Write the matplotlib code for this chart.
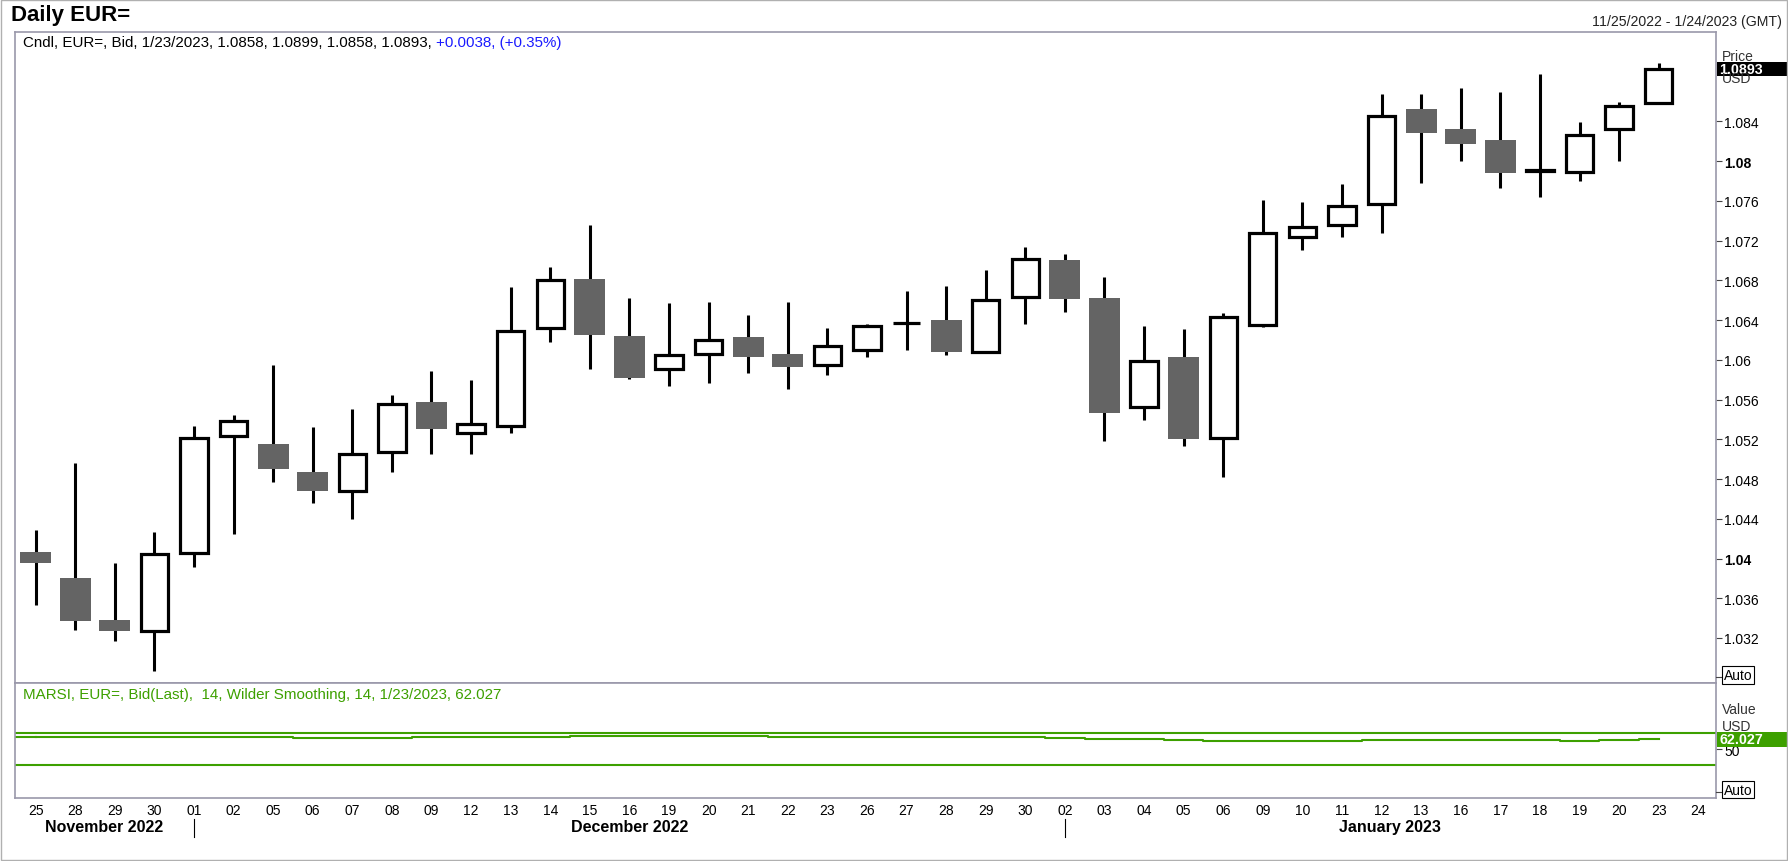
import numpy as np
import pandas as pd
import matplotlib
matplotlib.use("Agg")
import matplotlib.pyplot as plt
from matplotlib.patches import Rectangle
from matplotlib.lines import Line2D
from matplotlib.transforms import blended_transform_factory

plt.rcParams['font.family'] = ['Liberation Sans', 'DejaVu Sans']

# --- daily EUR= bid candles ---
dates = pd.to_datetime([
    '2022-11-25', '2022-11-28', '2022-11-29', '2022-11-30',
    '2022-12-01', '2022-12-02', '2022-12-05', '2022-12-06', '2022-12-07',
    '2022-12-08', '2022-12-09', '2022-12-12', '2022-12-13', '2022-12-14',
    '2022-12-15', '2022-12-16', '2022-12-19', '2022-12-20', '2022-12-21',
    '2022-12-22', '2022-12-23', '2022-12-26', '2022-12-27', '2022-12-28',
    '2022-12-29', '2022-12-30', '2023-01-02', '2023-01-03', '2023-01-04',
    '2023-01-05', '2023-01-06', '2023-01-09', '2023-01-10', '2023-01-11',
    '2023-01-12', '2023-01-13', '2023-01-16', '2023-01-17', '2023-01-18',
    '2023-01-19', '2023-01-20', '2023-01-23',
])
axis_end = pd.Timestamp('2023-01-24')

opens = [1.0407, 1.0380, 1.0338, 1.0327, 1.0406, 1.0523, 1.0515, 1.0487, 1.0468,
         1.0507, 1.0558, 1.0526, 1.0533, 1.0632, 1.0681, 1.0624, 1.0591, 1.0606,
         1.0623, 1.0606, 1.0595, 1.0610, 1.0637, 1.0640, 1.0608, 1.0663, 1.0700,
         1.0662, 1.0552, 1.0603, 1.0521, 1.0635, 1.0724, 1.0736, 1.0757, 1.0852,
         1.0832, 1.0821, 1.0790, 1.0789, 1.0832, 1.0858]
highs = [1.0429, 1.0496, 1.0395, 1.0427, 1.0533, 1.0544, 1.0595, 1.0532, 1.0550,
         1.0565, 1.0589, 1.0580, 1.0673, 1.0693, 1.0736, 1.0662, 1.0657, 1.0658,
         1.0645, 1.0658, 1.0632, 1.0636, 1.0669, 1.0674, 1.0690, 1.0714, 1.0706,
         1.0683, 1.0634, 1.0631, 1.0647, 1.0761, 1.0759, 1.0777, 1.0867, 1.0868,
         1.0874, 1.0870, 1.0888, 1.0839, 1.0859, 1.0899]
lows = [1.0353, 1.0328, 1.0317, 1.0287, 1.0391, 1.0425, 1.0477, 1.0456, 1.0440,
        1.0487, 1.0505, 1.0505, 1.0526, 1.0618, 1.0591, 1.0581, 1.0574, 1.0577,
        1.0587, 1.0571, 1.0585, 1.0603, 1.0610, 1.0605, 1.0607, 1.0636, 1.0648,
        1.0518, 1.0539, 1.0513, 1.0482, 1.0633, 1.0710, 1.0724, 1.0728, 1.0778,
        1.0800, 1.0773, 1.0764, 1.0780, 1.0800, 1.0858]
closes = [1.0395, 1.0337, 1.0327, 1.0405, 1.0521, 1.0538, 1.0490, 1.0468, 1.0505,
          1.0556, 1.0530, 1.0535, 1.0629, 1.0680, 1.0625, 1.0582, 1.0605, 1.0620,
          1.0603, 1.0593, 1.0614, 1.0634, 1.0637, 1.0608, 1.0660, 1.0701, 1.0661,
          1.0546, 1.0599, 1.0520, 1.0643, 1.0728, 1.0734, 1.0755, 1.0845, 1.0828,
          1.0817, 1.0788, 1.0791, 1.0826, 1.0855, 1.0893]

# MARSI 14, Wilder smoothing
rsi = [64.7, 64.7, 64.7, 64.7, 64.7, 64.7, 64.7, 63.4, 63.4, 63.4, 64.7, 64.7,
       64.7, 64.7, 65.9, 65.9, 65.9, 65.9, 65.9, 64.7, 64.7, 64.7, 64.7, 64.7,
       64.7, 64.7, 63.4, 62.2, 62.2, 61.0, 59.7, 59.7, 59.7, 59.7, 61.0, 61.0,
       61.0, 61.0, 61.0, 59.7, 61.0, 62.027]
rsi_levels = [70, 30]

price_ticks = [1.032, 1.036, 1.04, 1.044, 1.048, 1.052, 1.056, 1.06, 1.064,
               1.068, 1.072, 1.076, 1.08, 1.084]
bold_ticks = [1.04, 1.08]

# --- layout helpers (pixels -> figure fraction) ---
W, H = 1788, 862
def fx(px):
    return px / W
def fy(py):
    return 1 - py / H

GREEN = '#3da000'
GREY = '#646464'
FRAME = '#9a98aa'
XLIM = (-0.52, 42.44)

fig = plt.figure(figsize=(W / 100, H / 100), dpi=100)
ax = fig.add_axes([fx(15), fy(684.3), fx(1715.7) - fx(15), fy(33) - fy(684.3)])
ax_r = fig.add_axes([fx(15), fy(799), fx(1715.7) - fx(15), fy(684.3) - fy(799)], sharex=ax)

o = np.array(opens); h = np.array(highs); l = np.array(lows); c = np.array(closes)
x = np.arange(len(dates))
up = c >= o

# --- candles ---
ax.vlines(x, l, h, color='black', linewidth=2.2, zorder=1)
ax.bar(x[up], (c - o)[up], bottom=o[up], width=0.69, facecolor='white',
       edgecolor='black', linewidth=2.3, zorder=2)
ax.bar(x[~up], (o - c)[~up], bottom=c[~up], width=0.78, color=GREY,
       linewidth=0, zorder=2)

ax.set_xlim(*XLIM)
ax.set_ylim(1.02744, 1.09299)
ax.yaxis.tick_right()
ax.set_yticks(price_ticks)
ax.set_yticklabels([f'{t:g}' for t in price_ticks])
ax.tick_params(axis='y', direction='out', length=4.3, width=0.8, color='#444444',
               labelsize=10, pad=2)
for lab, t in zip(ax.get_yticklabels(), price_ticks):
    if t in bold_ticks:
        lab.set_fontweight('bold')
ax.tick_params(axis='x', bottom=False, labelbottom=False)
for s in ax.spines.values():
    s.set_color(FRAME)
    s.set_linewidth(1.2)

# last price box
tr = blended_transform_factory(ax.transAxes, ax.transData)
ax.add_patch(Rectangle((1.0008, c[-1] - 0.0007), 0.05, 0.0014, transform=tr,
                       facecolor='black', edgecolor='none', clip_on=False, zorder=6))
ax.text(1.002, c[-1], f'{c[-1]:.4f}', transform=tr, color='white', weight='bold',
        size=10.3, ha='left', va='center', clip_on=False, zorder=7)

# header line of the price panel
chg = c[-1] - c[-2]
d = dates[-1]
t1 = fig.text(fx(23), fy(43),
              f'Cndl, EUR=, Bid, {d.month}/{d.day}/{d.year}, {o[-1]:.4f}, '
              f'{h[-1]:.4f}, {l[-1]:.4f}, {c[-1]:.4f}, ',
              size=10.9, va='center', ha='left')
ax.annotate(f'{chg:+.4f}, ({chg / c[-2] * 100:+.2f}%)', xy=(1, 0), xycoords=t1,
            va='bottom', ha='left', size=10.9, color='#1a1aff')

# --- RSI panel ---
ax_r.plot(x, rsi, drawstyle='steps-mid', color=GREEN, linewidth=1.5)
ax_r.plot([XLIM[0], x[0]], [rsi[0], rsi[0]], color=GREEN, linewidth=1.5)
for lv in rsi_levels:
    ax_r.axhline(lv, color=GREEN, linewidth=1.5)
ax_r.set_ylim(-10.5, 131.6)
ax_r.yaxis.tick_right()
ax_r.set_yticks([50])
ax_r.tick_params(axis='y', direction='out', length=4.3, width=0.8, color='#444444',
                 labelsize=10, pad=2)
for s in ax_r.spines.values():
    s.set_color(FRAME)
    s.set_linewidth(1.2)

tick_labels = list(dates.strftime('%d')) + [axis_end.strftime('%d')]
ax_r.set_xticks(np.arange(len(tick_labels)))
ax_r.set_xticklabels(tick_labels)
ax_r.tick_params(axis='x', length=0, labelsize=10, pad=3.5)
ax_r.set_xlim(*XLIM)

trr = blended_transform_factory(ax_r.transAxes, ax_r.transData)
ax_r.add_patch(Rectangle((1.0008, rsi[-1] - 9.6), 0.05, 19.2, transform=trr,
                         facecolor=GREEN, edgecolor='none', clip_on=False, zorder=6))
ax_r.text(1.002, rsi[-1], f'{rsi[-1]:.3f}', transform=trr, color='white',
          weight='bold', size=10.3, ha='left', va='center', clip_on=False, zorder=7)

fig.text(fx(23), fy(695), f'MARSI, EUR=, Bid(Last),  14, Wilder Smoothing, 14, '
         f'{d.month}/{d.day}/{d.year}, {rsi[-1]:.3f}', size=10.9, color=GREEN,
         va='center', ha='left')

# --- month labels and separators ---
xm = blended_transform_factory(ax_r.transData, fig.transFigure)
month_start = [i for i in range(1, len(dates)) if dates[i].month != dates[i - 1].month]
edges = [XLIM[0]] + month_start + [XLIM[1]]
month_names = [dates[0].strftime('%B %Y')] + [dates[i].strftime('%B %Y') for i in month_start]
for k, name in enumerate(month_names):
    fig.text((edges[k] + edges[k + 1]) / 2, fy(828), name, transform=xm, ha='center',
             va='center', weight='bold', size=11.5)
for i in month_start:
    fig.add_artist(Line2D([i, i], [fy(820), fy(838)], transform=xm, color='black',
                          linewidth=0.8))

# --- right side captions ---
fig.text(fx(1722), fy(57), 'Price', size=10, color='#333333', va='center', ha='left')
fig.text(fx(1722), fy(79), 'USD', size=10, color='#333333', va='center', ha='left',
         zorder=0)
fig.text(fx(1722), fy(710), 'Value', size=10, color='#333333', va='center', ha='left')
fig.text(fx(1722), fy(727), 'USD', size=10, color='#333333', va='center', ha='left')
for py in (676, 790.7):
    fig.text(fx(1724), fy(py), 'Auto', size=10, color='black', va='center', ha='left',
             bbox=dict(boxstyle='square,pad=0.12', facecolor='white',
                       edgecolor='black', linewidth=0.8))
    fig.add_artist(Line2D([fx(1716), fx(1721)], [fy(py + 2), fy(py + 2)],
                          color='#444444', linewidth=0.8))

# --- title and range ---
fig.text(fx(11), fy(16), 'Daily EUR=', weight='bold', size=16, va='center', ha='left')
d0 = dates[0]
fig.text(fx(1782), fy(21.7),
         f'{d0.month}/{d0.day}/{d0.year} - {axis_end.month}/{axis_end.day}/{axis_end.year} (GMT)',
         size=10.2, color='#222222', va='center', ha='right')

# outer frame
fig.add_artist(Rectangle((0.0005, 0.001), 0.999, 0.998, transform=fig.transFigure,
                         facecolor='none', edgecolor='#b0b0b0', linewidth=1))

fig.savefig('out.png', dpi=100)
plt.close(fig)
